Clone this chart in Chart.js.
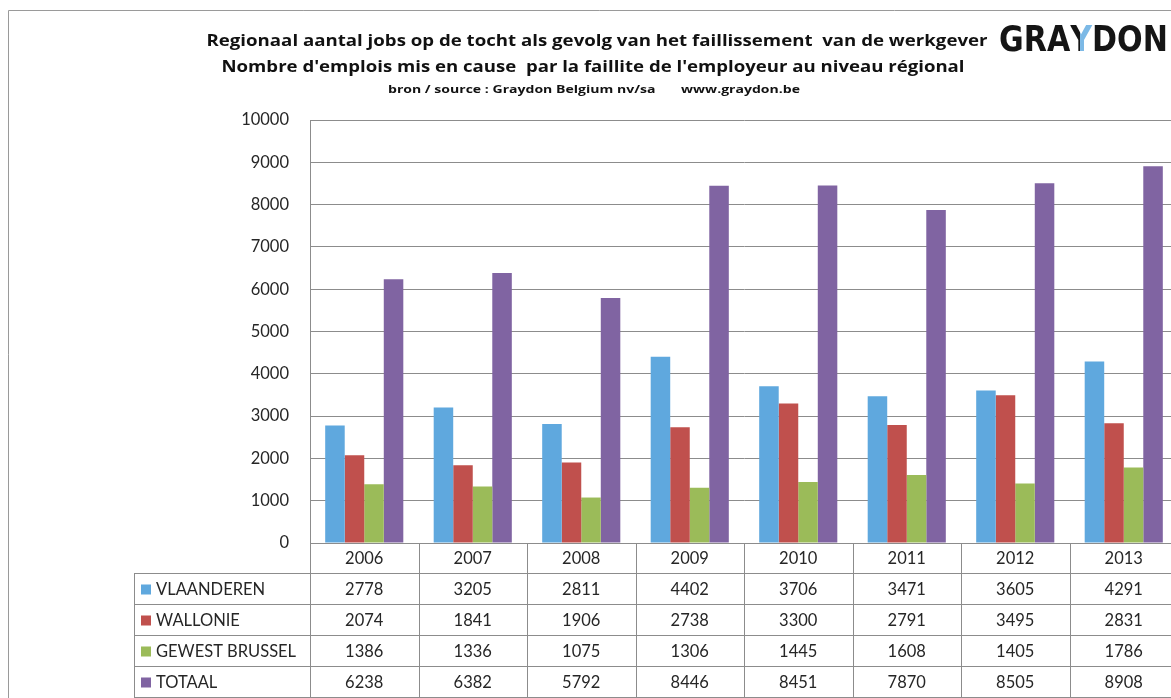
<!DOCTYPE html>
<html>
<head>
<meta charset="utf-8">
<script src="https://cdn.jsdelivr.net/npm/chart.js@4"></script>
<style>
  html, body { margin: 0; padding: 0; overflow: hidden; background: #fff; }
  #canvas { position: absolute; left: 0; top: 0; }
</style>
</head>
<body>
<canvas id="canvas" width="1190" height="698"></canvas>
<script>
    // data
    var years = ["2006", "2007", "2008", "2009", "2010", "2011", "2012", "2013"];
    var vlaanderen = [2778, 3205, 2811, 4402, 3706, 3471, 3605, 4291];
    var wallonie = [2074, 1841, 1906, 2738, 3300, 2791, 3495, 2831];
    var brussel = [1386, 1336, 1075, 1306, 1445, 1608, 1405, 1786];
    var totaal = [6238, 6382, 5792, 8446, 8451, 7870, 8505, 8908];
    var seriesNames = ["VLAANDEREN", "WALLONIE", "GEWEST BRUSSEL", "TOTAAL"];
    var seriesColors = ["#5fa8de", "#c0504d", "#9bbb59", "#8064a2"];
    var yTicks = [0, 1000, 2000, 3000, 4000, 5000, 6000, 7000, 8000, 9000, 10000];

    var titleLines = [
        "Regionaal aantal jobs op de tocht als gevolg van het faillissement  van de werkgever",
        "Nombre d'emplois mis en cause  par la faillite de l'employeur au niveau régional",
        "bron / source : Graydon Belgium nv/sa       www.graydon.be"
    ];

    var FONT = "Lato, 'Open Sans', sans-serif";
    var TITLE_FONT = "'Open Sans', sans-serif";
    var TEXT = "#262626";
    var LINE = "#8c8c8c";

    var allSeries = [vlaanderen, wallonie, brussel, totaal];

    // draw text centred at x, squeezed/stretched so it spans about the given width
    function fitText(ctx, text, font, cx, cy, width) {
        ctx.save();
        ctx.font = font;
        var w = ctx.measureText(text).width;
        ctx.translate(cx, cy);
        ctx.scale(width / w, 1);
        ctx.textAlign = "center";
        ctx.textBaseline = "middle";
        ctx.fillText(text, 0, 0);
        ctx.restore();
    }

    var decorPlugin = {
        id: 'decor',
        beforeDraw: function(chart) {
            var ctx = chart.ctx;
            ctx.save();
            // outer frame (only top and left visible)
            ctx.strokeStyle = "#9a9a9a";
            ctx.lineWidth = 1;
            ctx.beginPath();
            ctx.moveTo(8.5, 698);
            ctx.lineTo(8.5, 10.5);
            ctx.lineTo(chart.width, 10.5);
            ctx.stroke();

            // titles
            ctx.fillStyle = "#111";
            fitText(ctx, titleLines[0], "bold 15.5px " + TITLE_FONT, 597, 42, 781);
            fitText(ctx, titleLines[1], "bold 15.5px " + TITLE_FONT, 593, 68, 743);
            fitText(ctx, titleLines[2], "bold 11px " + TITLE_FONT, 594, 90, 412);

            // logo, drawn squeezed into its box
            var LOGO = "bold 35px 'DejaVu Sans', sans-serif";
            ctx.font = LOGO;
            var full = ctx.measureText("GRAYDON").width;
            var sx = 166 / full;
            ctx.save();
            ctx.translate(999, 42);
            ctx.scale(sx, 1);
            ctx.textAlign = "left";
            ctx.textBaseline = "middle";
            ctx.fillStyle = "#151515";
            ctx.fillText("GRA", 0, 0);
            var wGra = ctx.measureText("GRA").width;
            var wY = ctx.measureText("Y").width;
            // Y: left arm dark, the rest light blue
            ctx.save();
            ctx.beginPath();
            ctx.rect(wGra, -25, wY * 0.45, 50);
            ctx.clip();
            ctx.fillText("Y", wGra, 0);
            ctx.restore();
            ctx.save();
            ctx.beginPath();
            ctx.rect(wGra + wY * 0.45, -25, wY, 50);
            ctx.clip();
            ctx.fillStyle = "#7cb9e6";
            ctx.fillText("Y", wGra, 0);
            ctx.restore();
            ctx.fillText("DON", wGra + wY, 0);
            ctx.restore();
            ctx.restore();
        },
        afterDraw: function(chart) {
            var ctx = chart.ctx;
            var xs = chart.scales.x;
            var area = chart.chartArea;
            var cw = (xs.right - xs.left) / years.length;
            var rowH = 31;
            var headTop = area.bottom;
            var tableTop = headTop + 30;
            var tableLeft = 134;
            var tableBottom = tableTop + rowH * seriesNames.length;
            ctx.save();
            ctx.strokeStyle = LINE;
            ctx.lineWidth = 1;
            ctx.beginPath();
            // column separators (through year row and table)
            for (var i = 0; i <= years.length; i++) {
                var cx = Math.round(xs.left + i * cw) + 0.5;
                ctx.moveTo(cx, headTop);
                ctx.lineTo(cx, tableBottom);
            }
            // table left border
            ctx.moveTo(tableLeft + 0.5, tableTop);
            ctx.lineTo(tableLeft + 0.5, tableBottom);
            // horizontal rows
            for (var r = 0; r <= seriesNames.length; r++) {
                var ry = Math.round(tableTop + r * rowH) + 0.5;
                ctx.moveTo(tableLeft, ry);
                ctx.lineTo(chart.width, ry);
            }
            ctx.stroke();

            ctx.font = "16.5px " + FONT;
            ctx.textBaseline = "middle";
            for (var s = 0; s < seriesNames.length; s++) {
                var cy = tableTop + s * rowH + rowH / 2 + 1;
                ctx.fillStyle = seriesColors[s];
                ctx.fillRect(141, cy - 5, 10, 10);
                ctx.fillStyle = TEXT;
                ctx.textAlign = "left";
                ctx.fillText(seriesNames[s], 156, cy);
                ctx.textAlign = "center";
                for (var k = 0; k < years.length; k++) {
                    ctx.fillText(String(allSeries[s][k]), xs.left + (k + 0.5) * cw, cy);
                }
            }
            ctx.restore();
        }
    };

    var config = {
        type: 'bar',
        data: {
            labels: years,
            datasets: [
                {label: seriesNames[0], data: vlaanderen, backgroundColor: seriesColors[0]},
                {label: seriesNames[1], data: wallonie, backgroundColor: seriesColors[1]},
                {label: seriesNames[2], data: brussel, backgroundColor: seriesColors[2]},
                {label: seriesNames[3], data: totaal, backgroundColor: seriesColors[3]}
            ]
        },
        options: {
            responsive: false,
            animation: false,
            devicePixelRatio: 1,
            layout: {padding: {top: 120, right: 12, left: 0, bottom: 0}},
            datasets: {bar: {barPercentage: 1, categoryPercentage: 0.72, borderWidth: 0}},
            plugins: {legend: {display: false}, title: {display: false}, tooltip: {enabled: false}},
            scales: {
                x: {
                    grid: {display: false, drawTicks: false},
                    border: {display: false},
                    ticks: {font: {family: FONT, size: 16.5}, color: TEXT, padding: 6, maxRotation: 0},
                    afterFit: function(scale) { scale.height = 155; }
                },
                y: {
                    min: 0,
                    max: yTicks[yTicks.length - 1],
                    afterBuildTicks: function(scale) {
                        scale.ticks = yTicks.map(function(v) { return {value: v}; });
                    },
                    grid: {color: LINE, drawTicks: false},
                    border: {color: LINE},
                    ticks: {
                        font: {family: FONT, size: 16.5}, color: TEXT, padding: 21,
                        callback: function(v) { return String(v); }
                    },
                    afterFit: function(scale) { scale.width = 310; }
                }
            }
        },
        plugins: [decorPlugin]
    };

    window.onload = function() {
        window.myBar = new Chart(document.getElementById("canvas"), config);
    };
</script>
</body>
</html>
